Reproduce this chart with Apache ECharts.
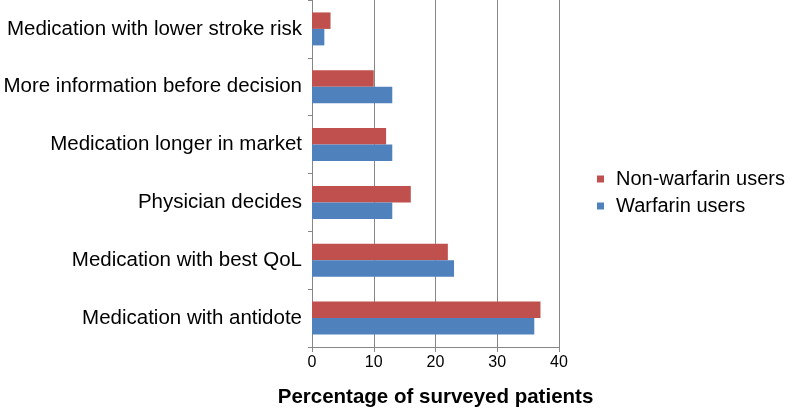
<!DOCTYPE html>
<html><head><meta charset="utf-8">
<script src="https://cdn.jsdelivr.net/npm/echarts@6/dist/echarts.min.js"></script>
<style>html,body{margin:0;padding:0;background:#fff}#c{width:792px;height:413px}</style>
</head><body><div id="c"></div>
<script>
const categories = ["Medication with antidote","Medication with best QoL","Physician decides","Medication longer in market","More information before decision","Medication with lower stroke risk"];
const nonWarfarin = [37,22,16,12,10,3];
const warfarin = [36,23,13,13,13,2];
const xTicks = [0,10,20,30,40];
const chart = echarts.init(document.getElementById('c'));
chart.setOption({
  animation:false,
  textStyle:{fontFamily:'Liberation Sans, Arial, sans-serif'},
  grid:{left:312,right:233,top:0,bottom:53,containLabel:false},
  legend:{data:['Non-warfarin users','Warfarin users'],orient:'vertical',left:592,top:163,itemWidth:7,itemHeight:7,itemGap:5,icon:'rect',
    textStyle:{fontSize:20,lineHeight:22,color:'#000',fontFamily:'Liberation Sans, Arial, sans-serif',padding:[0,0,0,7]}},
  xAxis:{type:'value',min:xTicks[0],max:xTicks[xTicks.length-1],interval:10,
    name:'Percentage of surveyed patients',nameLocation:'middle',nameGap:40,
    nameTextStyle:{fontSize:20.5,fontWeight:'bold',color:'#000'},
    axisLine:{show:true,lineStyle:{color:'#868686'}},
    axisTick:{show:true,length:5,lineStyle:{color:'#868686'}},
    axisLabel:{fontSize:16,color:'#000',margin:8},
    splitLine:{show:true,lineStyle:{color:'#868686',width:1}}},
  yAxis:{type:'category',data:categories,
    axisLine:{show:true,lineStyle:{color:'#868686'}},
    axisTick:{show:true,length:4,lineStyle:{color:'#868686'}},
    axisLabel:{fontSize:20.5,color:'#000',margin:10}},
  series:[
    {name:'Non-warfarin users',type:'bar',data:nonWarfarin,itemStyle:{color:'#C0504D'},barGap:'0%',barCategoryGap:'43%'},
    {name:'Warfarin users',type:'bar',data:warfarin,itemStyle:{color:'#4F81BD'},barGap:'0%',barCategoryGap:'43%'}
  ]
});
</script></body></html>
